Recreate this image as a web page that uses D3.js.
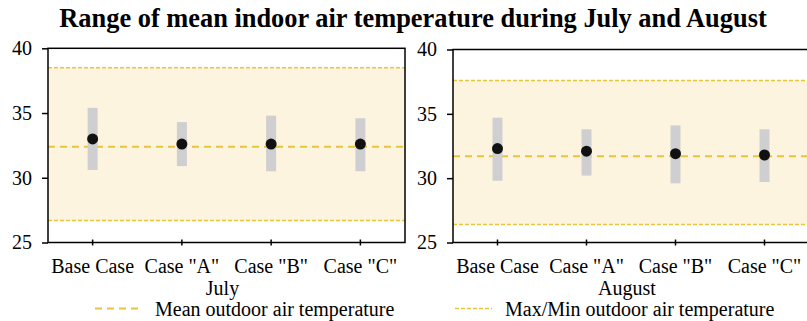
<!DOCTYPE html>
<html>
<head>
<meta charset="utf-8">
<script src="https://d3js.org/d3.v7.min.js"></script>
<style>
  body { margin: 0; background: #fff; }
  svg { display: block; font-family: "Liberation Serif", "Times New Roman", serif; }
</style>
</head>
<body>
<svg width="807" height="321"></svg>
<script>
const cases = ["Base Case", "Case \"A\"", "Case \"B\"", "Case \"C\""];
const months = ["July", "August"];
const yTicks = [25, 30, 35, 40];

// mean indoor temperature per case (dots)
const julyMean = [33.0, 32.6, 32.6, 32.6];
const augMean = [32.3, 32.1, 31.9, 31.8];
// range of indoor temperature per case (grey bars)
const julyLow = [30.6, 30.9, 30.5, 30.5];
const julyHigh = [35.4, 34.3, 34.8, 34.6];
const augLow = [29.8, 30.2, 29.6, 29.7];
const augHigh = [34.7, 33.8, 34.1, 33.8];
// outdoor air temperature: mean, max, min
const outdoorMean = [32.4, 31.7];
const outdoorMax = [38.5, 37.6];
const outdoorMin = [26.7, 26.4];

const legendLabels = ["Mean outdoor air temperature", "Max/Min outdoor air temperature"];

const svg = d3.select("svg");
const gold = "#e8c53a";

svg.append("text")
   .attr("x", 413).attr("y", 27)
   .attr("text-anchor", "middle")
   .attr("font-weight", "bold")
   .attr("font-size", "26.4px")
   .text("Range of mean indoor air temperature during July and August");

const panels = [
  {x0: 48, x1: 405, y0: 48.3, mean: julyMean, low: julyLow, high: julyHigh},
  {x0: 453, x1: 809, y0: 49.5, mean: augMean, low: augLow, high: augHigh}
];

panels.forEach((p, i) => {
  const x = d3.scaleBand().domain(cases).range([p.x0, p.x1]);
  const y = d3.scaleLinear().domain([25, 40]).range([242.5, p.y0]);
  const g = svg.append("g");

  // outdoor max/min band
  g.append("rect")
   .attr("x", p.x0).attr("width", p.x1 - p.x0)
   .attr("y", y(outdoorMax[i])).attr("height", y(outdoorMin[i]) - y(outdoorMax[i]))
   .attr("fill", "#fdf4df");

  [outdoorMax[i], outdoorMin[i]].forEach(v => {
    g.append("line")
     .attr("x1", p.x0).attr("x2", p.x1)
     .attr("y1", y(v)).attr("y2", y(v))
     .attr("stroke", gold).attr("stroke-width", 1.5)
     .attr("stroke-dasharray", "4,2");
  });

  g.append("line")
   .attr("x1", p.x0).attr("x2", p.x1)
   .attr("y1", y(outdoorMean[i])).attr("y2", y(outdoorMean[i]))
   .attr("stroke", gold).attr("stroke-width", 2)
   .attr("stroke-dasharray", "7,5");

  // range bars
  g.selectAll(".bar")
   .data(cases)
   .join("rect")
   .attr("x", d => x(d) + x.bandwidth() / 2 - 5)
   .attr("width", 10)
   .attr("y", (d, j) => y(p.high[j]))
   .attr("height", (d, j) => y(p.low[j]) - y(p.high[j]))
   .attr("fill", "#cfcfd1");

  g.selectAll(".dot")
   .data(cases)
   .join("circle")
   .attr("cx", d => x(d) + x.bandwidth() / 2)
   .attr("cy", (d, j) => y(p.mean[j]))
   .attr("r", 5.5)
   .attr("fill", "#111");

  // frame
  g.append("rect")
   .attr("x", p.x0).attr("y", p.y0)
   .attr("width", p.x1 - p.x0).attr("height", 242.5 - p.y0)
   .attr("fill", "none").attr("stroke", "#000").attr("stroke-width", 1.5);

  const yAxis = g.append("g")
   .attr("transform", `translate(${p.x0},0)`)
   .call(d3.axisLeft(y).tickValues(yTicks).tickSize(6).tickPadding(10))
   .attr("font-family", null).attr("font-size", "20px");
  yAxis.select(".domain").remove();
  yAxis.selectAll("line").attr("stroke-width", 1.5);
  yAxis.selectAll("text").attr("fill", "#000");

  const xAxis = g.append("g")
   .attr("transform", "translate(0,242.5)")
   .call(d3.axisBottom(x).tickSize(3).tickPadding(13))
   .attr("font-family", null).attr("font-size", "20px");
  xAxis.select(".domain").remove();
  xAxis.selectAll("line").attr("y1", -3).attr("stroke-width", 1.5);
  xAxis.selectAll("text").attr("fill", "#000");

  svg.append("text")
   .attr("x", (p.x0 + p.x1) / 2 - 4).attr("y", 295)
   .attr("text-anchor", "middle")
   .attr("font-size", "20px")
   .text(months[i]);
});

// legend
const legendX = [95, 455];
const legendLen = [47, 37];
const legendDash = ["7,5", "4,2"];
legendLabels.forEach((t, i) => {
  svg.append("line")
     .attr("x1", legendX[i]).attr("x2", legendX[i] + legendLen[i])
     .attr("y1", 308.5).attr("y2", 308.5)
     .attr("stroke", gold).attr("stroke-width", i === 0 ? 2 : 1.4)
     .attr("stroke-dasharray", legendDash[i]);
  svg.append("text")
     .attr("x", legendX[i] + legendLen[i] + 13).attr("y", 316)
     .attr("font-size", "20px")
     .text(t);
});
</script>
</body>
</html>
